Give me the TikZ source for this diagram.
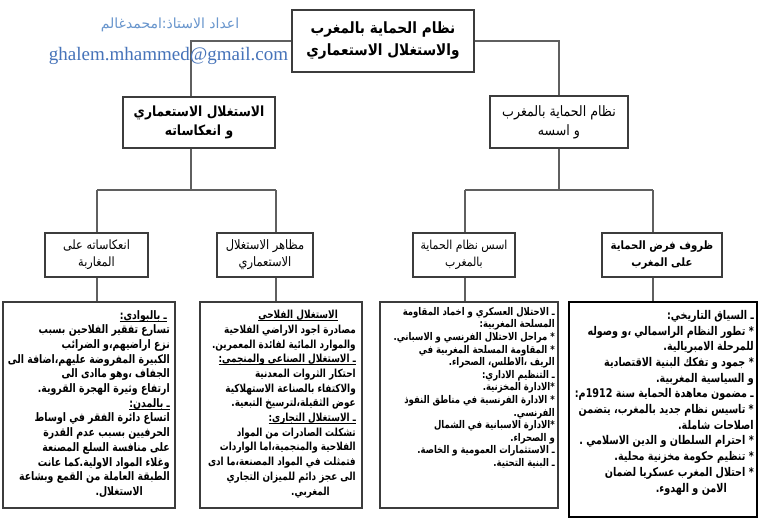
\documentclass[tikz,border=0pt]{standalone}
\usepackage{fontspec}
\usetikzlibrary{calc}
\TeXXeTstate=1
\newfontfamily\arabicfont[Script=Arabic]{DejaVu Sans}
\newfontfamily\arabiccond[Script=Arabic,FakeStretch=0.88]{DejaVu Sans}
\newfontfamily\arabicnarrow[Script=Arabic,FakeStretch=0.8]{DejaVu Sans}
\newfontfamily\emailfont{Liberation Serif}
\newcommand\ar[1]{\beginR #1\endR}
\newcommand\ind[1]{\hspace*{#1pt}}
\newcommand\ulr[1]{\setbox0\hbox{#1}\rlap{\rule[-2.2pt]{\wd0}{0.6pt}}\box0}
\definecolor{linegray}{RGB}{95,95,95}
\definecolor{boxgray}{RGB}{60,60,60}
\definecolor{signblue}{RGB}{70,115,185}
\definecolor{signlight}{RGB}{105,150,205}
\tikzset{
  conn/.style={draw=linegray, line width=1.1pt},
  topbox/.style={draw=boxgray, line width=1.3pt, fill=white, align=center, inner sep=2pt},
  midbox/.style={draw=boxgray, line width=1.1pt, fill=white, align=center, inner sep=2pt},
  bigbox/.style={draw=boxgray, line width=1.2pt, fill=white, inner sep=0pt},
  boxtext/.style={anchor=north east, align=right, inner sep=0pt, font=\arabicnarrow\bfseries\fontsize{11.7}{14.7}\selectfont},
}
\begin{document}
\begin{tikzpicture}[x=1pt,y=-1pt]
\useasboundingbox (0,0) rectangle (759,519);
\fill[white] (0,0) rectangle (759,519);

% header
\node[text=signlight, font=\arabicfont\fontsize{14}{16}\selectfont, inner sep=0pt] (author) at (170,25) {\ar{اعداد الاستاذ:امحمدغالم}};

% junction coordinates
\coordinate (jL) at (191,190);
\coordinate (jR) at (559,190);
\coordinate (xA) at (97,0);
\coordinate (xB) at (276,0);
\coordinate (xC) at (465,0);
\coordinate (xD) at (653,0);

% nodes
\node[topbox, minimum width=182pt, minimum height=62pt, font=\arabiccond\bfseries\fontsize{15.5}{22}\selectfont] (top) at (383,41) {\ar{نظام الحماية بالمغرب}\\\ar{والاستغلال الاستعماري}};

\node[midbox, minimum width=152pt, minimum height=51pt, font=\arabiccond\bfseries\fontsize{14}{19}\selectfont] (l2a) at (199,122.5) {\ar{الاستغلال الاستعماري}\\\ar{و انعكاساته}};
\node[midbox, minimum width=138pt, minimum height=52pt, font=\arabiccond\fontsize{14.3}{19}\selectfont] (l2b) at (559,122) {\ar{نظام الحماية بالمغرب}\\\ar{و اسسه}};

\node[midbox, minimum width=103pt, minimum height=44pt, font=\arabiccond\fontsize{12.8}{17}\selectfont] (l3a) at (96.5,255) {\ar{انعكاساته على}\\\ar{المغاربة}};
\node[midbox, minimum width=96pt, minimum height=44pt, font=\arabiccond\fontsize{13}{17}\selectfont] (l3b) at (265,255) {\ar{مظاهر الاستغلال}\\\ar{الاستعماري}};
\node[midbox, minimum width=102pt, minimum height=44pt, font=\arabiccond\fontsize{12.4}{17}\selectfont] (l3c) at (464,255) {\ar{اسس نظام الحماية}\\\ar{بالمغرب}};
\node[midbox, minimum width=120pt, minimum height=44pt, font=\arabiccond\bfseries\fontsize{11.5}{17}\selectfont] (l3d) at (662,255) {\ar{ظروف فرض الحماية}\\\ar{على المغرب}};

\node[bigbox, minimum width=172pt, minimum height=206pt] (b4) at (89,405) {};
\node[bigbox, minimum width=162pt, minimum height=206pt] (b3) at (281,405) {};
\node[bigbox, minimum width=178pt, minimum height=206pt] (b2) at (469,405) {};
\node[bigbox, line width=1.4pt, draw=black, minimum width=188pt, minimum height=215pt] (b1) at (663,409.5) {};

% connectors
\draw[conn] (top.west) -| (l2a.north -| jL);
\draw[conn] (top.east) -| (l2b.north);
\draw[conn] (l2a.south -| jL) -- (jL);
\draw[conn] (l2b.south) -- (jR);
\draw[conn] (jL -| xA) -- (jL -| xB);
\draw[conn] (jL -| xA) -- (l3a.north -| xA);
\draw[conn] (jL -| xB) -- (l3b.north -| xB);
\draw[conn] (jR -| xC) -- (jR -| xD);
\draw[conn] (jR -| xC) -- (l3c.north -| xC);
\draw[conn] (jR -| xD) -- (l3d.north -| xD);
\draw[conn] (l3a.south -| xA) -- (b4.north -| xA);
\draw[conn] (l3b.south -| xB) -- (b3.north -| xB);
\draw[conn] (l3c.south -| xC) -- (b2.north -| xC);
\draw[conn] (l3d.south -| xD) -- (b1.north -| xD);

% email (line passes behind it)
\node[text=signblue, font=\emailfont\fontsize{19}{22}\selectfont, inner sep=0pt] (email) at (168.5,56) {ghalem.mhammed@gmail.com};

% box texts
\node[boxtext, font=\arabicnarrow\bfseries\fontsize{12}{15.7}\selectfont] (t1) at (754,310) {%
\ar{ـ السياق التاريخي:}\\
\ar{* تطور النظام الراسمالي ،و وصوله}\ind{6}\\
\ar{للمرحلة الامبريالية.}\ind{21}\\
\ar{* جمود و تفكك البنية الاقتصادية}\ind{9}\\
\ar{و السياسية المغربية.}\ind{21}\\
\ar{ـ مضمون معاهدة الحماية سنة \beginL 1912\endL{}م:}\ind{1}\\
\ar{* تاسيس نظام جديد بالمغرب، يتضمن}\ind{6}\\
\ar{اصلاحات شاملة.}\ind{24}\\
\ar{* احترام السلطان و الدين الاسلامي .}\ind{9}\\
\ar{* تنظيم حكومة مخزنية محلية.}\ind{11}\\
\ar{* احتلال المغرب عسكريا لضمان}\ind{11}\\
\ar{الامن و الهدوء.}\ind{27}};

\node[boxtext, font=\arabicnarrow\bfseries\fontsize{10.6}{12.6}\selectfont] (t2) at (555,307) {%
\ar{ـ الاحتلال العسكري و اخماد المقاومة}\\
\ar{المسلحة المغربية:}\ind{15}\\
\ar{* مراحل الاحتلال الفرنسي و الاسباني.}\\
\ar{* المقاومة المسلحة المغربية في}\\
\ar{الريف ،الاطلس، الصحراء.}\ind{15}\\
\ar{ـ التنظيم الاداري:}\\
\ar{*الادارة المخزنية.}\\
\ar{* الادارة الفرنسية في مناطق النفوذ}\\
\ar{الفرنسي.}\ind{15}\\
\ar{*الادارة الاسبانية في الشمال}\ind{16}\\
\ar{و الصحراء.}\ind{28}\\
\ar{ـ الاستثمارات العمومية و الخاصة.}\\
\ar{ـ البنية التحتية.}};

\node[boxtext, font=\arabicnarrow\bfseries\fontsize{11.1}{14.7}\selectfont] (t3) at (356,310) {%
\ulr{\ar{الاستغلال الفلاحي}}\ind{18}\\
\ar{مصادرة اجود الاراضي الفلاحية}\\
\ar{والموارد المائية لفائدة المعمرين.}\ind{1}\\
\ulr{\ar{ـ الاستغلال الصناعي والمنجمي:}}\\
\ar{احتكار الثروات المعدنية}\ind{18}\\
\ar{والاكتفاء بالصناعة الاستهلاكية}\ind{4}\\
\ar{عوض الثقيلة،لترسيخ التبعية.}\ind{6}\\
\ulr{\ar{ـ الاستغلال التجاري:}}\ind{16}\\
\ar{تشكلت الصادرات من المواد}\ind{11}\\
\ar{الفلاحية والمنجمية،اما الواردات}\ind{4}\\
\ar{فتمثلت في المواد المصنعة،ما ادى}\ind{6}\\
\ar{الى عجز دائم للميزان التجاري}\ind{8}\\
\ar{المغربي.}\ind{26}};

\node[boxtext] (t4) at (170,310) {%
\ulr{\ar{ـ بالبوادي:}}\ind{3}\\
\ar{تسارع تفقير الفلاحين بسبب}\ind{2}\\
\ar{نزع اراضيهم،و الضرائب}\ind{7}\\
\ar{الكبيرة المفروضة عليهم،اضافة الى}\\
\ar{الجفاف ،وهو ماادى الى}\ind{10}\\
\ar{ارتفاع وثيرة الهجرة القروية.}\ind{7}\\
\ulr{\ar{ـ بالمدن:}}\ind{3}\\
\ar{اتساع دائرة الفقر في اوساط}\ind{7}\\
\ar{الحرفيين  بسبب عدم القدرة}\ind{7}\\
\ar{على منافسة السلع المصنعة}\ind{8}\\
\ar{وغلاء المواد الاولية.كما عانت}\ind{7}\\
\ar{الطبقة العاملة من القمع وبشاعة}\ind{3}\\
\ar{الاستغلال.}\ind{27}};
\end{tikzpicture}
\end{document}
